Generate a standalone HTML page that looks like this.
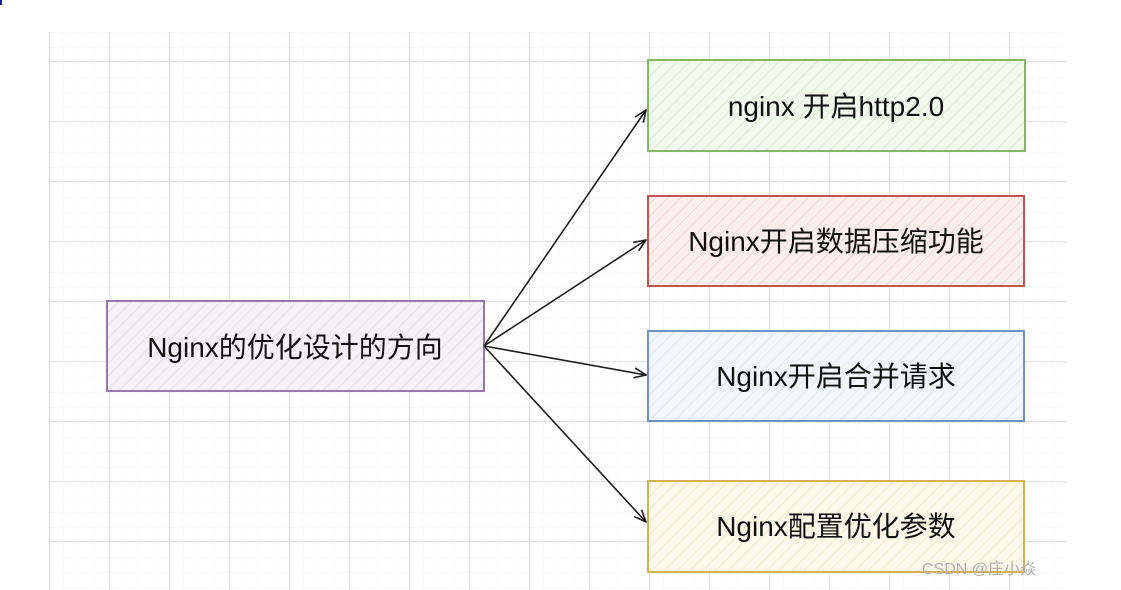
<!DOCTYPE html>
<html><head><meta charset="utf-8"><style>
body{margin:0;background:#fff;width:1121px;height:590px;overflow:hidden;}
</style></head><body>
<svg width="1121" height="590" xmlns="http://www.w3.org/2000/svg" style="position:absolute;left:0;top:0">
<defs>
<pattern id="minor" x="48" y="32" width="15" height="15" patternUnits="userSpaceOnUse"><path d="M0 0V15M0 0H15" stroke="#f3f3f3" stroke-width="1" fill="none"/></pattern>
<pattern id="major" x="49" y="1" width="60" height="60" patternUnits="userSpaceOnUse"><path d="M0.5 0V60M0 0.5H60" stroke="#e4e4e4" stroke-width="1" fill="none"/></pattern>
<pattern id="hg" width="9" height="9" patternUnits="userSpaceOnUse" patternTransform="rotate(45)"><rect width="9" height="9" fill="#f1f8ec"/><line x1="0" y1="0" x2="0" y2="9" stroke="#cfe6c0" stroke-width="1.2"/></pattern>
<pattern id="hr" width="9" height="9" patternUnits="userSpaceOnUse" patternTransform="rotate(45)"><rect width="9" height="9" fill="#fbeeee"/><line x1="0" y1="0" x2="0" y2="9" stroke="#f1caca" stroke-width="1.2"/></pattern>
<pattern id="hb" width="9" height="9" patternUnits="userSpaceOnUse" patternTransform="rotate(45)"><rect width="9" height="9" fill="#f2f5fb"/><line x1="0" y1="0" x2="0" y2="9" stroke="#dbe3f2" stroke-width="1.2"/></pattern>
<pattern id="hy" width="9" height="9" patternUnits="userSpaceOnUse" patternTransform="rotate(45)"><rect width="9" height="9" fill="#fdf8ea"/><line x1="0" y1="0" x2="0" y2="9" stroke="#f3e4b8" stroke-width="1.2"/></pattern>
<pattern id="hp" width="9" height="9" patternUnits="userSpaceOnUse" patternTransform="rotate(45)"><rect width="9" height="9" fill="#f6f1f8"/><line x1="0" y1="0" x2="0" y2="9" stroke="#e2d5e9" stroke-width="1.2"/></pattern>
<marker id="ar" markerWidth="14" markerHeight="12" refX="13" refY="6" orient="auto" markerUnits="userSpaceOnUse"><path d="M1 1L13 6L1 11" fill="none" stroke="#1e1e1e" stroke-width="1.6"/></marker>
</defs>
<rect x="48" y="32" width="1018" height="558" fill="url(#minor)"/>
<rect x="48" y="32" width="1018" height="558" fill="url(#major)"/>
<rect x="0" y="0" width="2" height="5" fill="#1a1aa0"/>
<g stroke-width="2">
<rect x="648" y="60" width="377" height="91" fill="url(#hg)" stroke="#84b865"/>
<rect x="648" y="196" width="376" height="90" fill="url(#hr)" stroke="#c45450"/>
<rect x="648" y="331" width="376" height="90" fill="url(#hb)" stroke="#7090c8"/>
<rect x="648" y="481" width="376" height="91" fill="url(#hy)" stroke="#d6b24e"/>
<rect x="107" y="301" width="377" height="90" fill="url(#hp)" stroke="#9a78ad"/>
</g>
<g stroke="#1e1e1e" stroke-width="1.6" fill="none" marker-end="url(#ar)">
<path d="M484 346L646 110"/>
<path d="M484 346L646 240"/>
<path d="M484 346L646 375"/>
<path d="M484 346L646 522"/>
</g>
<g font-family="'Liberation Sans','Noto Sans CJK SC',sans-serif" font-size="28" fill="#111" text-anchor="middle">
<text x="836" y="116">nginx 开启http2.0</text>
<text x="836" y="251">Nginx开启数据压缩功能</text>
<text x="836" y="386">Nginx开启合并请求</text>
<text x="836" y="536">Nginx配置优化参数</text>
<text x="295" y="357">Nginx的优化设计的方向</text>
</g>
<text x="922" y="574" font-family="'Liberation Sans','Noto Sans CJK SC',sans-serif" font-size="16" fill="#b0b0b0">CSDN @庄小焱</text>
</svg>
</body></html>
